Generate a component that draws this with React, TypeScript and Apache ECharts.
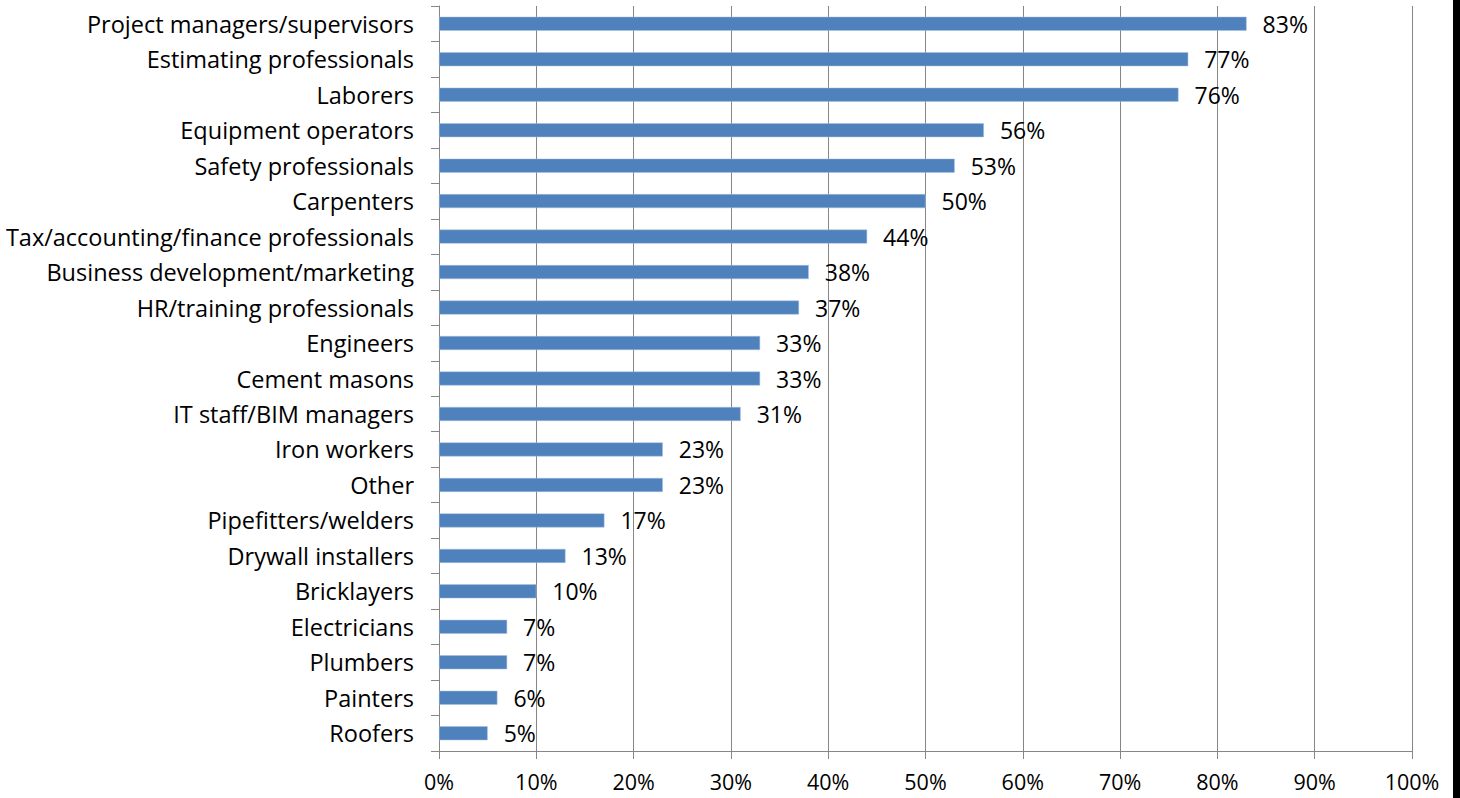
import React, { useEffect, useRef } from "react";
import * as echarts from "echarts";

const categories = [
  "Project managers/supervisors",
  "Estimating professionals",
  "Laborers",
  "Equipment operators",
  "Safety professionals",
  "Carpenters",
  "Tax/accounting/finance professionals",
  "Business development/marketing",
  "HR/training professionals",
  "Engineers",
  "Cement masons",
  "IT staff/BIM managers",
  "Iron workers",
  "Other",
  "Pipefitters/welders",
  "Drywall installers",
  "Bricklayers",
  "Electricians",
  "Plumbers",
  "Painters",
  "Roofers",
];
const values = [83, 77, 76, 56, 53, 50, 44, 38, 37, 33, 33, 31, 23, 23, 17, 13, 10, 7, 7, 6, 5];

export default function App() {
  const ref = useRef<HTMLDivElement>(null);
  useEffect(() => {
    const chart = echarts.init(ref.current!, null, { renderer: "svg" });
    const font = "Open Sans";
    chart.setOption({
      animation: false,
      grid: { left: 439, top: 6, width: 973, height: 745, containLabel: false },
      xAxis: {
        type: "value",
        min: 0,
        max: 100,
        interval: 10,
        axisLine: { show: true, lineStyle: { color: "#868686", width: 1 } },
        axisTick: { show: true, length: 8, lineStyle: { color: "#868686" } },
        axisLabel: { formatter: "{value}%", color: "#000", fontSize: 21.5, fontFamily: font, margin: 19 },
        splitLine: { show: true, lineStyle: { color: "#868686", width: 1 } },
      },
      yAxis: {
        type: "category",
        data: categories,
        inverse: true,
        axisLine: { show: true, lineStyle: { color: "#868686", width: 1 } },
        axisTick: { show: true, length: 8, lineStyle: { color: "#868686" } },
        axisLabel: { color: "#000", fontSize: 23.5, fontFamily: font, margin: 25 },
        splitLine: { show: false },
      },
      series: [
        {
          type: "bar",
          data: values,
          barWidth: 14,
          itemStyle: { color: "#4F81BD", borderColor: "#A7C0DE", borderWidth: 0.5 },
          label: {
            show: true,
            position: "right",
            distance: 16,
            formatter: "{c}%",
            color: "#000",
            fontSize: 23,
            fontFamily: font,
          },
        },
      ],
      graphic: [
        { type: "rect", shape: { x: 1453, y: 0, width: 7, height: 798 }, style: { fill: "#000" } },
      ],
    });
    return () => chart.dispose();
  }, []);
  return <div ref={ref} style={{ width: 1460, height: 798, position: "absolute", left: 0, top: 0 }} />;
}
